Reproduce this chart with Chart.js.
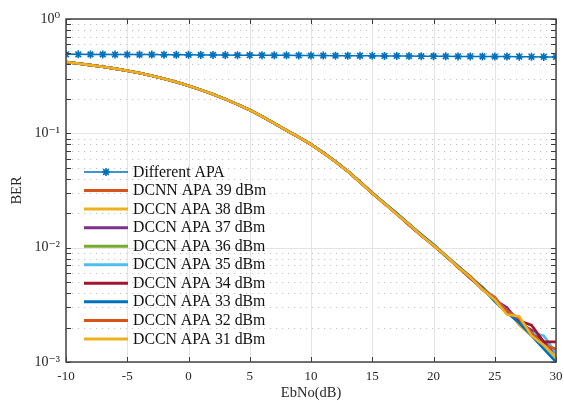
<!DOCTYPE html>
<html>
<head>
<meta charset="utf-8">
<script src="https://cdn.jsdelivr.net/npm/chart.js@4.4.1/dist/chart.umd.min.js"></script>
<style>
  html, body { margin: 0; padding: 0; background: #ffffff; }
  #c { display: block; }
</style>
</head>
<body>
<canvas id="c" width="564" height="403"></canvas>
<script>
// ---------------- DATA ----------------
const ebno = [-10,-9,-8,-7,-6,-5,-4,-3,-2,-1,0,1,2,3,4,5,6,7,8,9,10,11,12,13,14,15,16,17,18,19,20,21,22,23,24,25,26,27,28,29,30];

const seriesLabels = ['Different APA','DCNN APA 39 dBm','DCCN APA 38 dBm','DCCN APA 37 dBm','DCCN APA 36 dBm',
  'DCCN APA 35 dBm','DCCN APA 34 dBm','DCCN APA 33 dBm','DCCN APA 32 dBm','DCCN APA 31 dBm'];
const seriesColors = ['#0072BD','#D95319','#EDB120','#7E2F8E','#77AC30','#4DBEEE','#A2142F','#0072BD','#D95319','#EDB120'];

const berDifferent = [0.491,0.491,0.490,0.490,0.489,0.489,0.488,0.488,0.487,0.486,0.486,0.485,0.485,0.484,0.483,0.483,0.482,0.481,0.481,0.480,0.479,0.479,0.478,0.477,0.477,0.476,0.475,0.475,0.474,0.473,0.473,0.472,0.471,0.471,0.470,0.469,0.469,0.468,0.467,0.466,0.466];

const ber39 = [0.421,0.408,0.395,0.382,0.368,0.353,0.337,0.319,0.300,0.281,0.261,0.240,0.220,0.199,0.179,0.160,0.141,0.122,0.106,0.0925,0.080,0.0675,0.0565,0.0465,0.0375,
  0.0300,0.0245,0.0196,0.0160,0.0127,0.0106,0.0084,0.0069,0.0056,0.0043,0.0037,0.0027,0.0023,0.0018,0.0015,0.0012];
const ber38 = [0.421,0.408,0.395,0.382,0.368,0.353,0.337,0.319,0.300,0.281,0.261,0.240,0.220,0.199,0.179,0.160,0.141,0.122,0.106,0.0925,0.080,0.0675,0.0565,0.0465,0.0376,
  0.0298,0.0242,0.0199,0.0158,0.0130,0.0104,0.0086,0.0067,0.0054,0.0045,0.0034,0.0029,0.0021,0.0017,0.0014,0.0011];
const ber37 = [0.421,0.408,0.395,0.382,0.368,0.353,0.337,0.319,0.300,0.281,0.261,0.240,0.220,0.199,0.179,0.160,0.141,0.122,0.106,0.0926,0.0802,0.0677,0.0566,0.0466,0.0376,
  0.0302,0.0244,0.0197,0.0161,0.0128,0.0106,0.0085,0.0068,0.0055,0.0043,0.0035,0.0030,0.0022,0.0019,0.0015,0.0012];
const ber36 = [0.421,0.408,0.395,0.382,0.368,0.353,0.337,0.319,0.300,0.281,0.261,0.240,0.220,0.199,0.179,0.160,0.141,0.122,0.106,0.0924,0.0799,0.0674,0.0564,0.0464,0.0374,
  0.0299,0.0243,0.0196,0.0159,0.0129,0.0105,0.0084,0.0068,0.0056,0.0044,0.0034,0.0028,0.0023,0.0018,0.0014,0.0011];
const ber35 = [0.421,0.408,0.395,0.382,0.368,0.353,0.337,0.319,0.300,0.281,0.261,0.240,0.220,0.199,0.179,0.160,0.141,0.122,0.106,0.0928,0.0805,0.0680,0.0569,0.0468,0.0378,
  0.0303,0.0246,0.0201,0.0160,0.0131,0.0107,0.0086,0.0069,0.0055,0.0045,0.0036,0.0028,0.0022,0.0018,0.0017,0.0012];
const ber34 = [0.421,0.408,0.395,0.382,0.368,0.353,0.337,0.319,0.300,0.281,0.261,0.240,0.220,0.199,0.179,0.160,0.141,0.122,0.106,0.0925,0.0801,0.0678,0.0567,0.0467,0.0377,
  0.0301,0.0244,0.0198,0.0158,0.0128,0.0105,0.0085,0.0068,0.0054,0.0044,0.0035,0.0028,0.0023,0.0021,0.0015,0.0015];
const ber33 = [0.421,0.408,0.395,0.382,0.368,0.353,0.337,0.319,0.300,0.281,0.261,0.240,0.220,0.199,0.179,0.160,0.141,0.122,0.106,0.0927,0.0803,0.0679,0.0568,0.0467,0.0377,
  0.0300,0.0245,0.0199,0.0161,0.0130,0.0106,0.0084,0.0069,0.0055,0.0045,0.0034,0.0027,0.0022,0.0017,0.0013,0.0010];
const ber32 = [0.421,0.408,0.395,0.382,0.368,0.353,0.337,0.319,0.300,0.281,0.261,0.240,0.220,0.199,0.179,0.160,0.141,0.122,0.106,0.0924,0.0800,0.0675,0.0565,0.0465,0.0375,
  0.0299,0.0242,0.0197,0.0159,0.0129,0.0104,0.0085,0.0067,0.0056,0.0044,0.0036,0.0028,0.0024,0.0018,0.0014,0.0013];
const ber31 = [0.421,0.408,0.395,0.382,0.368,0.353,0.337,0.319,0.300,0.281,0.261,0.240,0.220,0.199,0.179,0.160,0.141,0.122,0.106,0.0925,0.0800,0.0675,0.0565,0.0465,0.0375,
  0.0300,0.0243,0.0196,0.0160,0.0128,0.0105,0.0085,0.0068,0.0055,0.0043,0.0035,0.0026,0.0025,0.0017,0.0014,0.0011];

const xTicks = [-10,-5,0,5,10,15,20,25,30];
const yDecades = [0.001,0.01,0.1,1];
const yTickLabels = ['10\u207B\u00B3','10\u207B\u00B2','10\u207B\u00B9','10\u2070'];

// ---------------- CHART ----------------
const allSeries = [berDifferent, ber39, ber38, ber37, ber36, ber35, ber34, ber33, ber32, ber31];
const SERIF = '"Liberation Serif", "DejaVu Serif", serif';

const datasets = allSeries.map((vals, i) => {
  const d = {
    label: seriesLabels[i],
    data: ebno.map((x, k) => ({x: x, y: vals[k]})),
    borderColor: seriesColors[i],
    backgroundColor: seriesColors[i],
    borderWidth: i === 0 ? 1.5 : 2.6,
    tension: 0,
    fill: false,
    order: allSeries.length - i,
    pointRadius: 0,
    pointHoverRadius: 0
  };
  if (i === 0) {
    d.pointStyle = 'star';
    d.pointRadius = 4;
    d.pointBorderWidth = 1.6;
    d.pointBorderColor = seriesColors[i];
    d.pointBackgroundColor = seriesColors[i];
    d.order = 0;
  }
  return d;
});

const decoPlugin = {
  id: 'deco',
  beforeDatasetsDraw(chart) {
    const {ctx, chartArea: a, scales: {x, y}} = chart;
    ctx.save();
    ctx.strokeStyle = '#c4c4c4';
    ctx.lineWidth = 1;
    ctx.setLineDash([1.2, 4.8]);
    for (let e = -3; e < 0; e++) {
      for (let k = 2; k <= 9; k++) {
        const py = Math.round(y.getPixelForValue(k * Math.pow(10, e))) + 0.5;
        ctx.beginPath(); ctx.moveTo(a.left, py); ctx.lineTo(a.right, py); ctx.stroke();
      }
    }
    ctx.setLineDash([]);
    ctx.strokeStyle = '#e3e3e3';
    yDecades.forEach(v => {
      const py = Math.round(y.getPixelForValue(v)) + 0.5;
      ctx.beginPath(); ctx.moveTo(a.left, py); ctx.lineTo(a.right, py); ctx.stroke();
    });
    xTicks.forEach(v => {
      const px = Math.round(x.getPixelForValue(v)) + 0.5;
      ctx.beginPath(); ctx.moveTo(px, a.top); ctx.lineTo(px, a.bottom); ctx.stroke();
    });
    ctx.restore();
  },
  afterDatasetsDraw(chart) {
    const {ctx, chartArea: a, scales: {x, y}} = chart;
    ctx.save();
    ctx.strokeStyle = '#3a3a3a';
    ctx.lineWidth = 1;
    const TL = 5;
    xTicks.forEach(v => {
      const px = Math.round(x.getPixelForValue(v)) + 0.5;
      ctx.beginPath(); ctx.moveTo(px, a.bottom); ctx.lineTo(px, a.bottom - TL); ctx.stroke();
      ctx.beginPath(); ctx.moveTo(px, a.top); ctx.lineTo(px, a.top + TL); ctx.stroke();
    });
    for (let e = -3; e <= 0; e++) {
      for (let k = 1; k <= 9; k++) {
        if (e === 0 && k > 1) break;
        const py = Math.round(y.getPixelForValue(k * Math.pow(10, e))) + 0.5;
        ctx.beginPath(); ctx.moveTo(a.left, py); ctx.lineTo(a.left + TL, py); ctx.stroke();
        ctx.beginPath(); ctx.moveTo(a.right, py); ctx.lineTo(a.right - TL, py); ctx.stroke();
      }
    }
    ctx.strokeStyle = '#444444';
    ctx.lineWidth = 1.5;
    ctx.strokeRect(Math.round(a.left), Math.round(a.top), Math.round(a.right - a.left), Math.round(a.bottom - a.top));
    ctx.restore();
  },
  afterDraw(chart) {
    const {ctx, chartArea: a} = chart;
    ctx.save();
    ctx.font = '15.8px ' + SERIF;
    ctx.textBaseline = 'middle';
    ctx.textAlign = 'left';
    const x0 = a.left + 18, x1 = a.left + 62, tx = a.left + 67;
    chart.data.datasets.forEach((ds, i) => {
      const yy = a.top + 153 + i * 18.55;
      ctx.strokeStyle = ds.borderColor;
      ctx.lineWidth = i === 0 ? 1.5 : 3;
      ctx.beginPath(); ctx.moveTo(x0, yy); ctx.lineTo(x1, yy); ctx.stroke();
      if (i === 0) {
        const cx = (x0 + x1) / 2, r = 4;
        ctx.lineWidth = 1.6;
        ctx.beginPath();
        ctx.moveTo(cx - r, yy); ctx.lineTo(cx + r, yy);
        ctx.moveTo(cx, yy - r); ctx.lineTo(cx, yy + r);
        const d = r * Math.SQRT1_2;
        ctx.moveTo(cx - d, yy - d); ctx.lineTo(cx + d, yy + d);
        ctx.moveTo(cx - d, yy + d); ctx.lineTo(cx + d, yy - d);
        ctx.stroke();
      }
      ctx.fillStyle = '#111111';
      ctx.fillText(ds.label, tx, yy + 0.5);
    });
    ctx.restore();
  }
};

new Chart(document.getElementById('c'), {
  type: 'line',
  data: { datasets: datasets },
  options: {
    responsive: false,
    animation: false,
    devicePixelRatio: 1,
    layout: { padding: { top: 19, right: 8, left: 0, bottom: 0 } },
    plugins: { legend: { display: false }, tooltip: { enabled: false } },
    scales: {
      x: {
        type: 'linear',
        min: -10, max: 30,
        afterBuildTicks: s => { s.ticks = xTicks.map(v => ({value: v})); },
        afterFit: s => { s.height = 41; s.paddingLeft = 0; s.paddingRight = 0; },
        grid: { display: false, drawTicks: false },
        border: { display: false },
        ticks: {
          padding: 7,
          maxRotation: 0,
          autoSkip: false,
          color: '#262626',
          font: { family: SERIF, size: 13 },
          callback: v => String(v)
        },
        title: {
          display: true, text: 'EbNo(dB)', color: '#262626',
          font: { family: SERIF, size: 14.5, lineHeight: 1.2 },
          padding: { top: 0, bottom: 1 }
        }
      },
      y: {
        type: 'logarithmic',
        min: 0.001, max: 1,
        afterBuildTicks: s => { s.ticks = yDecades.map(v => ({value: v})); },
        afterFit: s => { s.width = 66; s.paddingTop = 0; s.paddingBottom = 0; },
        grid: { display: false, drawTicks: false },
        border: { display: false },
        ticks: {
          padding: 6,
          autoSkip: false,
          color: '#262626',
          font: { family: SERIF, size: 14 },
          callback: v => { const i = yDecades.findIndex(d => Math.abs(d - v) / d < 1e-6); return i >= 0 ? yTickLabels[i] : ''; }
        },
        title: {
          display: true, text: 'BER', color: '#262626',
          font: { family: SERIF, size: 14.5, lineHeight: 1.2 },
          padding: { top: 8, bottom: 0 }
        }
      }
    }
  },
  plugins: [decoPlugin]
});
</script>
</body>
</html>
